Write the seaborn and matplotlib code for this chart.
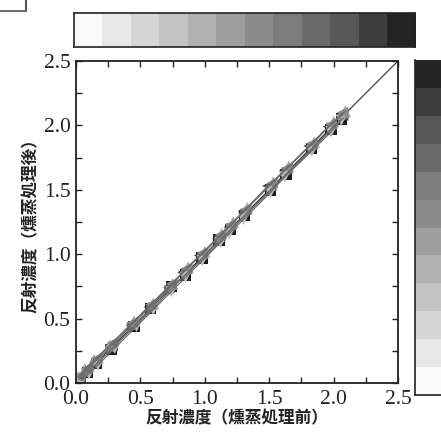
import numpy as np
import pandas as pd
import matplotlib
matplotlib.use("Agg")
import matplotlib.pyplot as plt
from matplotlib.lines import Line2D
from matplotlib.ticker import MultipleLocator, FormatStrFormatter
import seaborn as sns

sns.set_theme(style="white")
plt.rcParams["font.family"] = ["Liberation Serif", "DejaVu Serif"]

# Reflection density of the grey-scale steps before / after fumigation
series_names = ["S1", "S2", "S3", "S4", "S5", "S6"]
before_s1 = [0.03, 0.09, 0.16, 0.27, 0.45, 0.58, 0.74, 0.85, 0.98, 1.11, 1.20, 1.31, 1.51, 1.63, 1.83, 1.98, 2.06]
after_s1 = [0.03, 0.08, 0.15, 0.26, 0.44, 0.58, 0.75, 0.84, 0.97, 1.11, 1.19, 1.30, 1.50, 1.62, 1.82, 1.97, 2.05]
before_s2 = [0.02, 0.08, 0.15, 0.28, 0.43, 0.57, 0.72, 0.83, 0.96, 1.10, 1.19, 1.30, 1.49, 1.62, 1.81, 1.96, 2.07]
after_s2 = [0.03, 0.09, 0.17, 0.29, 0.45, 0.59, 0.74, 0.86, 0.99, 1.12, 1.21, 1.33, 1.53, 1.65, 1.84, 1.99, 2.08]
before_s3 = [0.04, 0.10, 0.17, 0.27, 0.44, 0.59, 0.73, 0.86, 0.99, 1.12, 1.21, 1.32, 1.52, 1.64, 1.84, 1.99, 2.08]
after_s3 = [0.03, 0.09, 0.16, 0.26, 0.43, 0.57, 0.72, 0.85, 0.97, 1.10, 1.20, 1.31, 1.50, 1.63, 1.82, 1.98, 2.06]
before_s4 = [0.02, 0.07, 0.14, 0.26, 0.45, 0.60, 0.75, 0.87, 1.00, 1.13, 1.22, 1.33, 1.53, 1.65, 1.85, 2.00, 2.09]
after_s4 = [0.05, 0.11, 0.18, 0.29, 0.48, 0.62, 0.77, 0.90, 1.02, 1.16, 1.25, 1.36, 1.56, 1.68, 1.87, 2.03, 2.11]
before_s5 = [0.04, 0.10, 0.17, 0.30, 0.47, 0.60, 0.74, 0.85, 0.98, 1.12, 1.19, 1.30, 1.51, 1.62, 1.83, 1.98, 2.06]
after_s5 = [0.02, 0.07, 0.14, 0.27, 0.44, 0.57, 0.71, 0.82, 0.95, 1.09, 1.16, 1.27, 1.48, 1.60, 1.80, 1.95, 2.04]
before_s6 = [0.03, 0.08, 0.16, 0.28, 0.44, 0.58, 0.74, 0.86, 0.98, 1.12, 1.20, 1.32, 1.52, 1.64, 1.83, 1.98, 2.07]
after_s6 = [0.05, 0.11, 0.19, 0.31, 0.47, 0.61, 0.77, 0.89, 1.01, 1.15, 1.23, 1.35, 1.55, 1.67, 1.86, 2.01, 2.10]

befores = [before_s1, before_s2, before_s3, before_s4, before_s5, before_s6]
afters = [after_s1, after_s2, after_s3, after_s4, after_s5, after_s6]

marker_map = {"S1": "s", "S2": "<", "S3": ">", "S4": "^", "S5": "v", "S6": "<"}
color_map = {"S1": "#1c1a1a", "S2": "#3a3838", "S3": "#6a6868",
             "S4": "#a8a6a6", "S5": "#bdbbbb", "S6": "#8c8a8a"}
line_map = {k: "#6a6a6a" for k in series_names}

# grey-scale patches of the step wedge
wedge_grays = [250, 232, 214, 196, 176, 158, 140, 124, 106, 88, 62, 36]

rows = []
for name, xs, ys in zip(series_names, befores, afters):
    for x, y in zip(xs, ys):
        rows.append({"series": name, "before": x, "after": y})
df = pd.DataFrame(rows)

W, H = 441, 434
fig = plt.figure(figsize=(W / 100, H / 100), dpi=100)
ax = fig.add_axes([76 / W, 1 - 383 / H, 322 / W, 322 / H])

ax.plot([0, 2.5], [0, 2.5], color="#2a2a2a", lw=0.8, zorder=1)
sns.scatterplot(data=df, x="before", y="after", hue="series", style="series",
                palette=color_map, markers=marker_map, s=68, linewidth=0,
                legend=False, ax=ax, zorder=2)
sns.lineplot(data=df, x="before", y="after", hue="series", palette=line_map,
             sort=False, lw=0.9, legend=False, ax=ax, zorder=3, estimator=None)

ax.set_xlim(0, 2.5)
ax.set_ylim(0, 2.5)
for a in (ax.xaxis, ax.yaxis):
    a.set_major_locator(MultipleLocator(0.5))
    a.set_minor_locator(MultipleLocator(0.25))
    a.set_major_formatter(FormatStrFormatter("%.1f"))
ax.tick_params(which="both", direction="in", top=True, right=True,
               bottom=True, left=True, length=4, width=1.0, color="#222222")
ax.tick_params(which="major", labelsize=15.5, colors="#222222")
ax.tick_params(axis="x", which="major", pad=5)
ax.tick_params(axis="y", which="major", pad=4)
for sp in ax.spines.values():
    sp.set_linewidth(1.3)
    sp.set_color("#222222")
    sp.set_visible(True)

cjk = ["Noto Sans CJK JP", "DejaVu Sans"]
ax.set_xlabel("反射濃度（燻蒸処理前）", family=cjk, fontsize=12, fontweight="bold",
              color="#222222", labelpad=0)
ax.set_ylabel("反射濃度（燻蒸処理後）", family=cjk, fontsize=12, fontweight="bold",
              color="#222222", labelpad=3)

# horizontal step wedge above the plot
top = fig.add_axes([74 / W, 1 - 47 / H, 341 / W, 34 / H])
top.imshow(np.array([wedge_grays]), cmap="gray", vmin=0, vmax=255,
           aspect="auto", interpolation="nearest")
top.set_xticks([])
top.set_yticks([])
for sp in top.spines.values():
    sp.set_linewidth(1.2)
    sp.set_color("#222222")

# vertical step wedge on the right edge
side = fig.add_axes([415 / W, 1 - 395 / H, 60 / W, 335 / H])
side.imshow(np.array([wedge_grays]).T, cmap="gray", vmin=0, vmax=255,
            aspect="auto", interpolation="nearest", origin="lower")
side.set_xticks([])
side.set_yticks([])
for sp in side.spines.values():
    sp.set_linewidth(1.2)
    sp.set_color("#222222")
side.spines["top"].set_visible(False)

# corner frame at the top left
fig.add_artist(Line2D([0, 26 / W], [1 - 11 / H, 1 - 11 / H], color="#555555", lw=1.2))
fig.add_artist(Line2D([26 / W, 26 / W], [1 - 11 / H, 1.0], color="#555555", lw=1.5))

fig.savefig("out.png", dpi=100)
